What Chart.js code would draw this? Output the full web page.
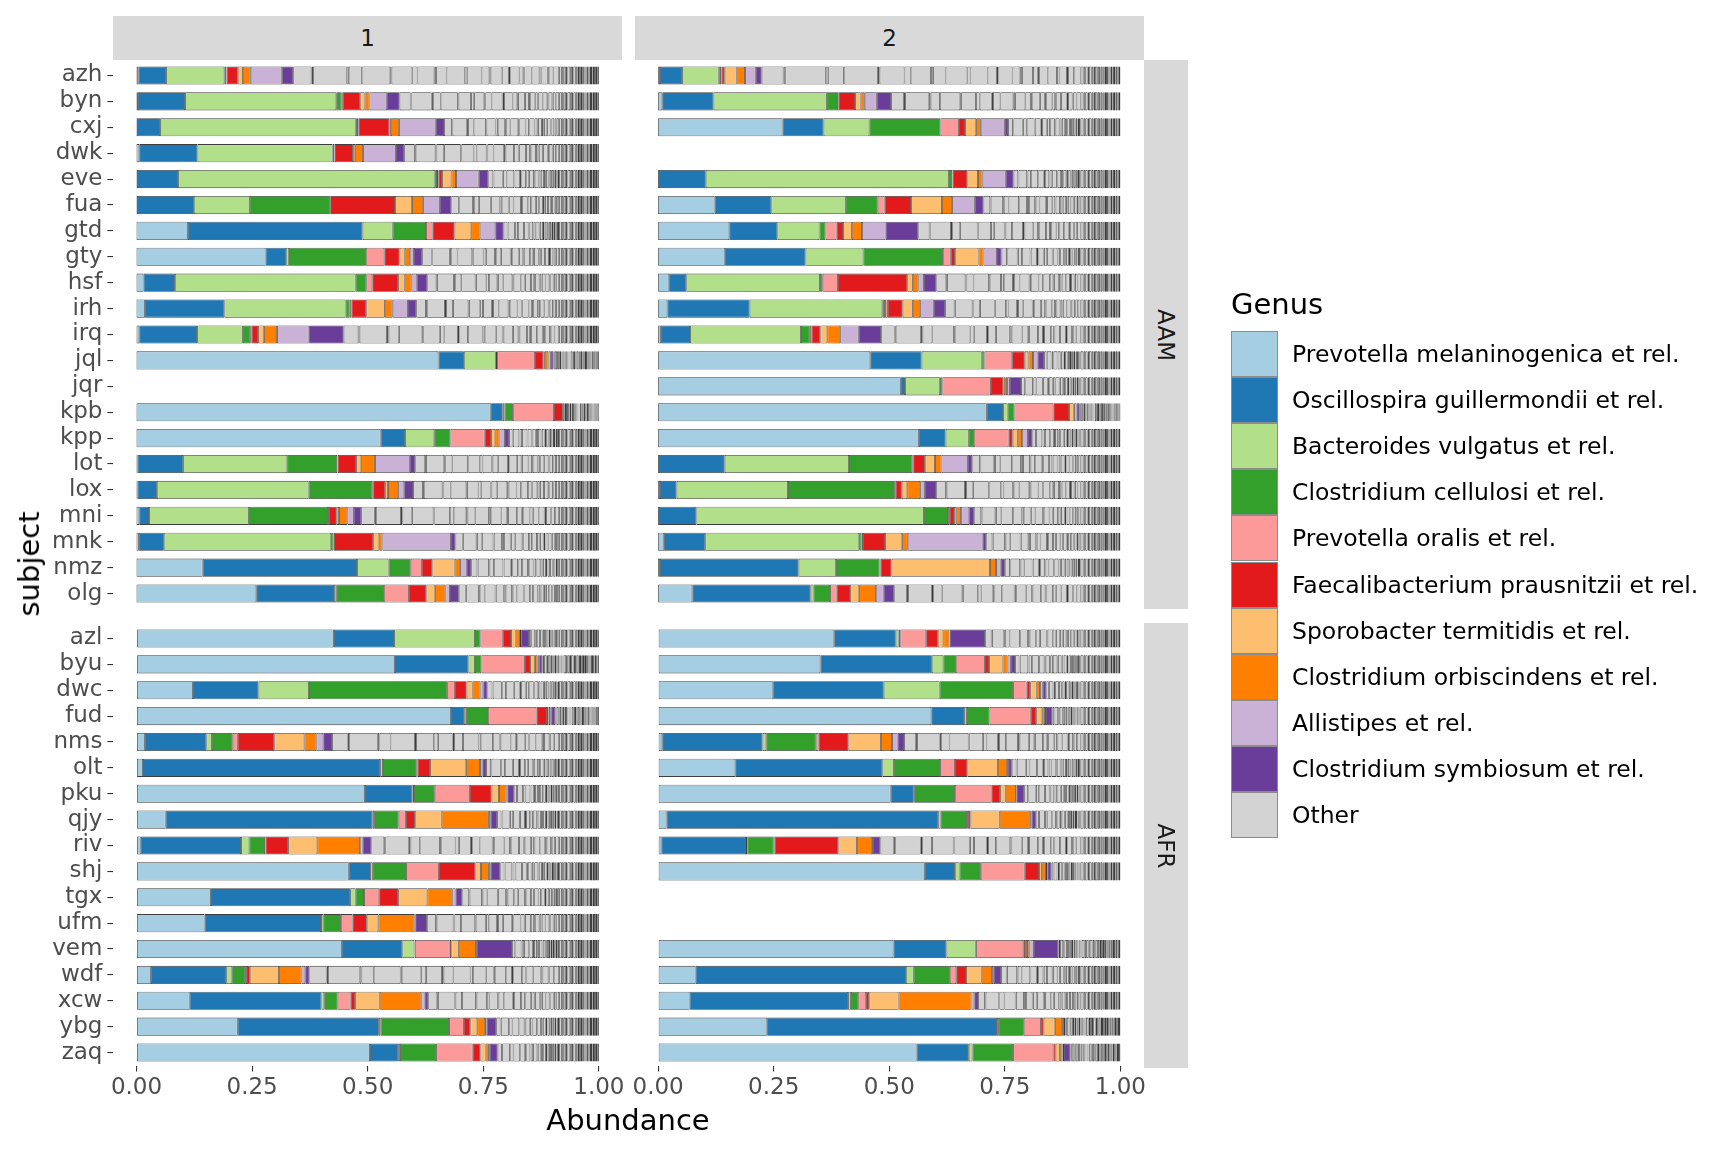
<!DOCTYPE html>
<html>
<head>
<meta charset="utf-8">
<title>Genus abundance</title>
<script src="https://cdn.jsdelivr.net/npm/chart.js@4.4.1/dist/chart.umd.min.js"></script>
<style>
  body { margin: 0; background: #fff; font-family: "DejaVu Sans", sans-serif; }
  #page { position: relative; width: 1728px; height: 1152px; overflow: hidden; }
  canvas.panel { position: absolute; left: 0; top: 0; }
  .strip { position: absolute; background: #d9d9d9; color: #1a1a1a; font-size: 23px;
           display: flex; align-items: center; justify-content: center; }
  .strip.side span { transform: rotate(90deg); white-space: nowrap; }
  .title { position: absolute; color: #000; font-size: 29px; white-space: nowrap; }
  .key { position: absolute; left: 1231px; width: 45px; height: 44px; border: 1px solid #8c8c8c; }
  .keylab { position: absolute; left: 1292px; font-size: 23.5px; color: #000; white-space: nowrap;
            line-height: 46px; height: 46px; }
</style>
</head>
<body>
<div id="page">
  <canvas id="aam1" class="panel" width="1728" height="1152"></canvas>
  <canvas id="aam2" class="panel" width="1728" height="1152"></canvas>
  <canvas id="afr1" class="panel" width="1728" height="1152"></canvas>
  <canvas id="afr2" class="panel" width="1728" height="1152"></canvas>

  <div class="strip" style="left:113px;top:16px;width:509px;height:44px;">1</div>
  <div class="strip" style="left:635px;top:16px;width:509px;height:44px;">2</div>
  <div class="strip side" style="left:1144px;top:60px;width:44px;height:549px;"><span>AAM</span></div>
  <div class="strip side" style="left:1144px;top:623px;width:44px;height:445px;"><span>AFR</span></div>

  <div class="title" style="left:628px;top:1120px;transform:translate(-50%,-50%);">Abundance</div>
  <div class="title" style="left:29px;top:564px;transform:translate(-50%,-50%) rotate(-90deg);">subject</div>

  <div class="title" style="left:1231px;top:287px;">Genus</div>
  <div id="legend"></div>
</div>

<script>
// ---- data ----
const genera = [
  'Prevotella melaninogenica et rel.',
  'Oscillospira guillermondii et rel.',
  'Bacteroides vulgatus et rel.',
  'Clostridium cellulosi et rel.',
  'Prevotella oralis et rel.',
  'Faecalibacterium prausnitzii et rel.',
  'Sporobacter termitidis et rel.',
  'Clostridium orbiscindens et rel.',
  'Allistipes et rel.',
  'Clostridium symbiosum et rel.'
];
const genusColors = ['#a6cee3', '#1f78b4', '#b2df8a', '#33a02c', '#fb9a99',
                     '#e31a1c', '#fdbf6f', '#ff7f00', '#cab2d6', '#6a3d9a'];
const otherColor = '#d3d3d3';

const aamSubjects = ['azh', 'byn', 'cxj', 'dwk', 'eve', 'fua', 'gtd', 'gty', 'hsf', 'irh', 'irq',
                     'jql', 'jqr', 'kpb', 'kpp', 'lot', 'lox', 'mni', 'mnk', 'nmz', 'olg'];
const afrSubjects = ['azl', 'byu', 'dwc', 'fud', 'nms', 'olt', 'pku', 'qjy', 'riv', 'shj', 'tgx',
                     'ufm', 'vem', 'wdf', 'xcw', 'ybg', 'zaq'];

const xTicks = [0, 0.25, 0.5, 0.75, 1];

// rows follow the subject order, columns follow genera; null = no sample
const aamTime1 = [
  [0.004, 0.060, 0.126, 0.004, 0.001, 0.024, 0.011, 0.017, 0.068, 0.024],
  [0.003, 0.102, 0.327, 0.011, 0.003, 0.037, 0.010, 0.011, 0.038, 0.027],
  [0.001, 0.050, 0.424, 0.004, 0.001, 0.067, 0.003, 0.018, 0.080, 0.017],
  [0.006, 0.126, 0.292, 0.004, 0.001, 0.039, 0.005, 0.017, 0.071, 0.018],
  [0.001, 0.089, 0.556, 0.004, 0.003, 0.008, 0.020, 0.010, 0.049, 0.021],
  [0.001, 0.123, 0.121, 0.173, 0.001, 0.140, 0.037, 0.024, 0.036, 0.025],
  [0.111, 0.378, 0.065, 0.072, 0.014, 0.048, 0.036, 0.020, 0.032, 0.018],
  [0.279, 0.044, 0.007, 0.166, 0.040, 0.033, 0.011, 0.011, 0.009, 0.018],
  [0.015, 0.068, 0.391, 0.023, 0.013, 0.056, 0.014, 0.015, 0.012, 0.022],
  [0.018, 0.172, 0.262, 0.009, 0.004, 0.032, 0.040, 0.017, 0.033, 0.018],
  [0.006, 0.125, 0.099, 0.016, 0.003, 0.014, 0.013, 0.028, 0.068, 0.076],
  [0.653, 0.055, 0.069, 0.003, 0.082, 0.018, 0.003, 0.008, 0.005, 0.006],
  null,
  [0.767, 0.025, 0.004, 0.018, 0.089, 0.019, 0.004, 0.003, 0.002, 0.004],
  [0.528, 0.053, 0.063, 0.035, 0.074, 0.014, 0.009, 0.009, 0.012, 0.009],
  [0.002, 0.099, 0.225, 0.108, 0.001, 0.040, 0.011, 0.030, 0.075, 0.012],
  [0.002, 0.042, 0.328, 0.138, 0.002, 0.026, 0.006, 0.022, 0.013, 0.019],
  [0.006, 0.021, 0.216, 0.171, 0.002, 0.017, 0.005, 0.018, 0.014, 0.016],
  [0.005, 0.054, 0.362, 0.005, 0.001, 0.085, 0.013, 0.007, 0.148, 0.010],
  [0.143, 0.334, 0.068, 0.048, 0.024, 0.023, 0.048, 0.012, 0.015, 0.009],
  [0.259, 0.168, 0.005, 0.103, 0.054, 0.038, 0.019, 0.022, 0.010, 0.019]
];
const aamTime2 = [
  [0.004, 0.048, 0.079, 0.005, 0.001, 0.007, 0.026, 0.018, 0.024, 0.012],
  [0.009, 0.111, 0.245, 0.024, 0.001, 0.036, 0.012, 0.009, 0.026, 0.031],
  [0.269, 0.089, 0.099, 0.154, 0.040, 0.013, 0.024, 0.010, 0.052, 0.007],
  null,
  [0.002, 0.101, 0.526, 0.007, 0.001, 0.032, 0.023, 0.010, 0.050, 0.017],
  [0.122, 0.123, 0.161, 0.069, 0.015, 0.057, 0.067, 0.022, 0.049, 0.019],
  [0.154, 0.104, 0.091, 0.013, 0.024, 0.014, 0.019, 0.022, 0.051, 0.071],
  [0.145, 0.174, 0.125, 0.172, 0.017, 0.009, 0.051, 0.011, 0.029, 0.010],
  [0.024, 0.037, 0.289, 0.006, 0.033, 0.150, 0.012, 0.012, 0.012, 0.027],
  [0.020, 0.178, 0.287, 0.006, 0.006, 0.032, 0.022, 0.016, 0.030, 0.024],
  [0.006, 0.063, 0.240, 0.019, 0.004, 0.019, 0.015, 0.028, 0.040, 0.048],
  [0.459, 0.111, 0.130, 0.006, 0.060, 0.027, 0.008, 0.010, 0.010, 0.014],
  [0.525, 0.009, 0.076, 0.005, 0.105, 0.027, 0.004, 0.004, 0.006, 0.024],
  [0.711, 0.035, 0.010, 0.015, 0.084, 0.034, 0.010, 0.001, 0.005, 0.007],
  [0.564, 0.058, 0.050, 0.011, 0.075, 0.009, 0.011, 0.009, 0.013, 0.010],
  [0.002, 0.142, 0.269, 0.137, 0.002, 0.025, 0.022, 0.014, 0.057, 0.010],
  [0.004, 0.036, 0.241, 0.231, 0.002, 0.013, 0.012, 0.028, 0.010, 0.024],
  [0.002, 0.081, 0.492, 0.052, 0.004, 0.009, 0.005, 0.010, 0.018, 0.010],
  [0.013, 0.089, 0.333, 0.005, 0.003, 0.048, 0.037, 0.012, 0.162, 0.007],
  [0.004, 0.300, 0.081, 0.094, 0.002, 0.024, 0.213, 0.013, 0.010, 0.009],
  [0.074, 0.256, 0.006, 0.036, 0.014, 0.029, 0.020, 0.036, 0.017, 0.023]
];
const afrTime1 = [
  [0.427, 0.130, 0.175, 0.012, 0.049, 0.017, 0.010, 0.009, 0.003, 0.017],
  [0.559, 0.159, 0.014, 0.014, 0.094, 0.011, 0.011, 0.005, 0.004, 0.007],
  [0.122, 0.142, 0.109, 0.299, 0.017, 0.025, 0.013, 0.017, 0.006, 0.009],
  [0.680, 0.028, 0.005, 0.047, 0.105, 0.023, 0.003, 0.004, 0.002, 0.009],
  [0.018, 0.133, 0.012, 0.045, 0.011, 0.079, 0.065, 0.026, 0.015, 0.019],
  [0.014, 0.513, 0.006, 0.073, 0.002, 0.027, 0.078, 0.030, 0.005, 0.008],
  [0.494, 0.103, 0.003, 0.045, 0.076, 0.047, 0.016, 0.016, 0.002, 0.014],
  [0.063, 0.447, 0.004, 0.053, 0.016, 0.019, 0.058, 0.102, 0.004, 0.014],
  [0.010, 0.216, 0.018, 0.034, 0.001, 0.049, 0.063, 0.092, 0.006, 0.019],
  [0.459, 0.046, 0.006, 0.072, 0.071, 0.079, 0.012, 0.017, 0.004, 0.021],
  [0.161, 0.301, 0.012, 0.018, 0.033, 0.041, 0.063, 0.054, 0.007, 0.015],
  [0.147, 0.252, 0.005, 0.038, 0.025, 0.031, 0.025, 0.078, 0.002, 0.025],
  [0.444, 0.131, 0.026, 0.001, 0.075, 0.004, 0.016, 0.037, 0.002, 0.076],
  [0.031, 0.163, 0.013, 0.028, 0.004, 0.006, 0.063, 0.049, 0.008, 0.009],
  [0.115, 0.285, 0.006, 0.029, 0.028, 0.010, 0.053, 0.090, 0.007, 0.008],
  [0.219, 0.305, 0.004, 0.148, 0.032, 0.014, 0.015, 0.017, 0.003, 0.021],
  [0.505, 0.061, 0.004, 0.078, 0.079, 0.017, 0.011, 0.007, 0.002, 0.017]
];
const afrTime2 = [
  [0.381, 0.133, 0.006, 0.004, 0.056, 0.025, 0.012, 0.013, 0.001, 0.076],
  [0.351, 0.241, 0.025, 0.027, 0.063, 0.009, 0.029, 0.011, 0.007, 0.009],
  [0.249, 0.239, 0.121, 0.159, 0.029, 0.008, 0.014, 0.007, 0.006, 0.008],
  [0.591, 0.071, 0.006, 0.049, 0.089, 0.012, 0.013, 0.006, 0.002, 0.014],
  [0.009, 0.217, 0.008, 0.107, 0.006, 0.065, 0.070, 0.024, 0.012, 0.014],
  [0.167, 0.318, 0.025, 0.100, 0.032, 0.027, 0.066, 0.020, 0.004, 0.006],
  [0.503, 0.050, 0.001, 0.088, 0.079, 0.019, 0.012, 0.022, 0.001, 0.017],
  [0.018, 0.588, 0.005, 0.057, 0.002, 0.006, 0.063, 0.066, 0.003, 0.009],
  [0.007, 0.183, 0.003, 0.057, 0.002, 0.138, 0.040, 0.033, 0.002, 0.016],
  [0.577, 0.065, 0.010, 0.046, 0.095, 0.031, 0.006, 0.009, 0.003, 0.009],
  null,
  null,
  [0.509, 0.115, 0.063, 0.001, 0.102, 0.004, 0.004, 0.005, 0.010, 0.053],
  [0.081, 0.455, 0.017, 0.078, 0.014, 0.021, 0.034, 0.022, 0.004, 0.016],
  [0.068, 0.343, 0.006, 0.016, 0.017, 0.007, 0.063, 0.158, 0.006, 0.008],
  [0.236, 0.497, 0.004, 0.054, 0.037, 0.006, 0.025, 0.015, 0.004, 0.003],
  [0.559, 0.113, 0.008, 0.088, 0.087, 0.005, 0.009, 0.006, 0.003, 0.014]
];

// "Other" = many small genera. The bigger ones share the bulk of the remainder
// (relative sizes), the rarest ones sit at the end with small abundances of their own.
const otherShares = [7, 0.6, 13, 0.8, 5, 11, 0.5, 8, 2, 6.5, 0.7, 4, 7, 1, 5.5,
                     3, 0.5, 4.5, 2.5, 0.6, 3.5, 1.5, 0.4, 2.8, 3, 0.8, 2.4, 0.4, 1.8, 2.2];
const otherTail = [0.006, 0.004, 0.005, 0.003, 0.006, 0.004, 0.003, 0.005, 0.004, 0.003,
                   0.004, 0.003, 0.002, 0.003, 0.002, 0.002, 0.0015, 0.002, 0.0015, 0.0015,
                   0.0035, 0.003, 0.0035, 0.004, 0.003, 0.0035];

// ---- drawing ----
const FONT = 'DejaVu Sans';
const TICK_COLOR = '#4d4d4d';
const OUTLINE = '#3d3d3d';
const sum = a => a.reduce((s, v) => s + v, 0);
const shareTotal = sum(otherShares);
const tailTotal = sum(otherTail);

function otherParts(row) {
  const rest = 1 - sum(row);
  const k = Math.min(1, rest / (tailTotal * 1.6));
  const bulk = rest - tailTotal * k;
  return otherShares.map(s => bulk * s / shareTotal).concat(otherTail.map(t => t * k));
}

function buildDatasets(rows) {
  const sets = genera.map((g, gi) => ({
    label: g,
    data: rows.map(r => r ? r[gi] : null),
    backgroundColor: genusColors[gi]
  }));
  const parts = rows.map(r => r ? otherParts(r) : null);
  const nOther = otherShares.length + otherTail.length;
  for (let k = 0; k < nOther; k++) {
    // the last pieces stand for dozens of tiny genera whose outlines merge into a dark block
    const sliver = k >= nOther - 6;
    sets.push({
      label: 'Other',
      data: parts.map(p => p ? p[k] : null),
      backgroundColor: sliver ? '#454545' : otherColor
    });
  }
  sets.forEach(d => {
    d.borderColor = OUTLINE;
    d.borderWidth = 0.8;
    d.borderSkipped = false;
    d.inflateAmount = 0;
    d.barPercentage = 0.7;
    d.categoryPercentage = 1;
  });
  return sets;
}

function makePanel(id, subjects, rows, padding, showY, showX) {
  new Chart(document.getElementById(id), {
    type: 'bar',
    data: { labels: subjects, datasets: buildDatasets(rows) },
    options: {
      indexAxis: 'y',
      responsive: false,
      animation: false,
      devicePixelRatio: 1,
      layout: { padding: padding },
      plugins: { legend: { display: false }, tooltip: { enabled: false } },
      scales: {
        x: {
          type: 'linear', stacked: true, min: -0.05, max: 1.05, display: showX,
          afterBuildTicks: s => { s.ticks = xTicks.map(v => ({ value: v })); },
          afterFit: s => { s.height = showX ? 40 : 0; },
          ticks: {
            callback: v => Number(v).toFixed(2), color: TICK_COLOR, padding: 3,
            font: { family: FONT, size: 23 }, maxRotation: 0, autoSkip: false
          },
          grid: { drawOnChartArea: false, drawTicks: true, tickLength: 6, color: '#333333', lineWidth: 1.1 },
          border: { display: false }
        },
        y: {
          type: 'category', stacked: true, offset: true, display: showY,
          afterFit: s => { s.width = showY ? 113.4 : 0; },
          ticks: { color: TICK_COLOR, padding: 5, font: { family: FONT, size: 23 }, autoSkip: false },
          grid: { drawOnChartArea: false, drawTicks: true, tickLength: 6, offset: false, color: '#333333', lineWidth: 1.1 },
          border: { display: false }
        }
      }
    }
  });
}

// panel rectangles: left 113.4-622 / 635-1143.5 ; AAM rows 62.5-606.5 ; AFR rows 625.5-1065.5
makePanel('aam1', aamSubjects, aamTime1, { left: 0, top: 62.5, right: 1106, bottom: 545.5 }, true, false);
makePanel('aam2', aamSubjects, aamTime2, { left: 635, top: 62.5, right: 584.5, bottom: 545.5 }, false, false);
makePanel('afr1', afrSubjects, afrTime1, { left: 0, top: 625.5, right: 1106, bottom: 46.5 }, true, true);
makePanel('afr2', afrSubjects, afrTime2, { left: 635, top: 625.5, right: 584.5, bottom: 46.5 }, false, true);

// legend
const legend = document.getElementById('legend');
genera.concat(['Other']).forEach((g, i) => {
  const top = 331 + i * 46.1;
  const key = document.createElement('div');
  key.className = 'key';
  key.style.top = top + 'px';
  key.style.background = i < genusColors.length ? genusColors[i] : otherColor;
  legend.appendChild(key);
  const lab = document.createElement('div');
  lab.className = 'keylab';
  lab.style.top = top + 'px';
  lab.textContent = g;
  legend.appendChild(lab);
});
</script>
</body>
</html>
